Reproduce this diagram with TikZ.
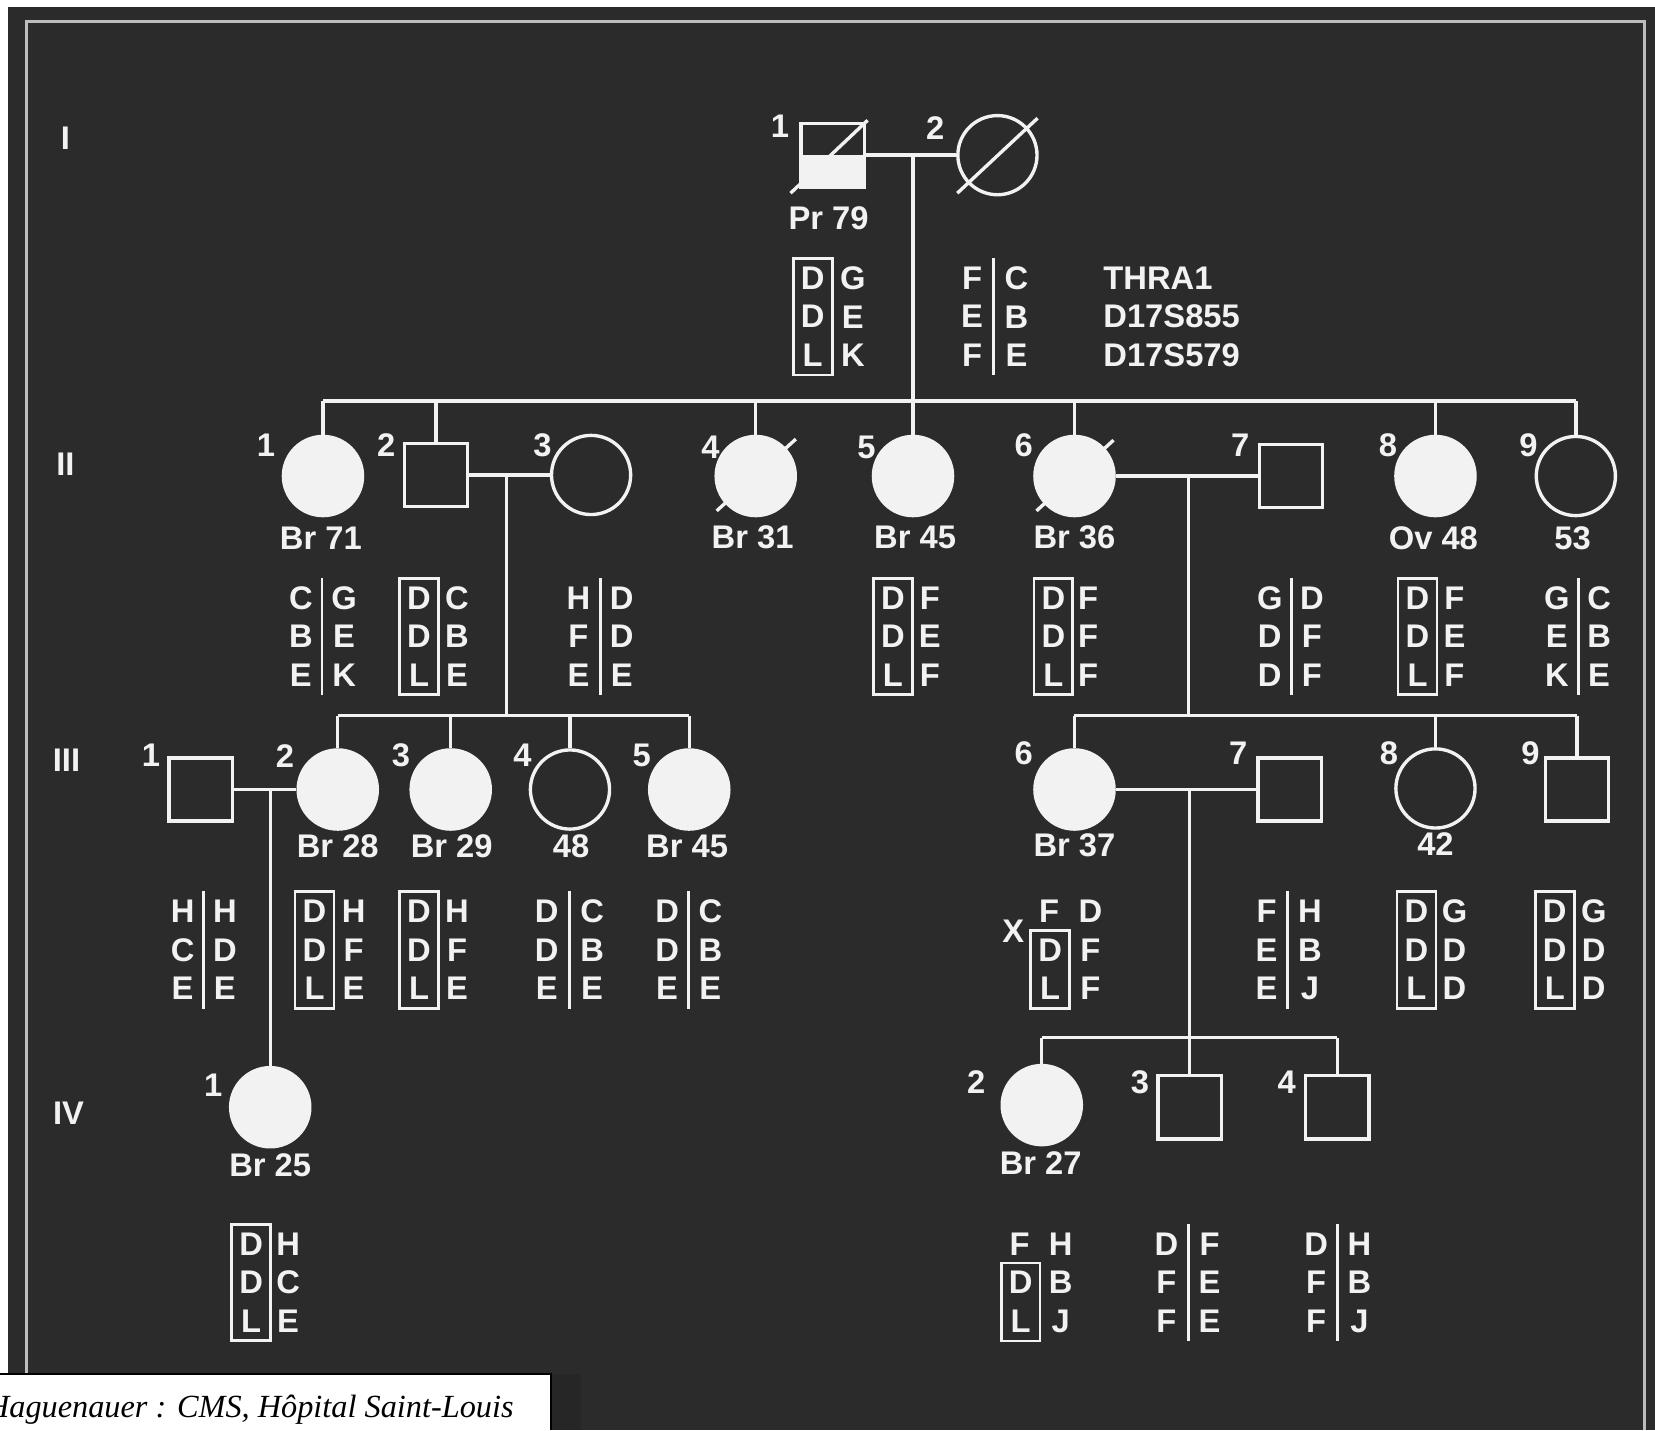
\documentclass[tikz,border=0pt]{standalone}
\usepackage{fontspec}
\newfontfamily\pedfont{Liberation Sans}
\newfontfamily\captfont{Liberation Serif}
\usetikzlibrary{calc}
\definecolor{bg}{HTML}{2B2B2B}
\definecolor{fg}{HTML}{F2F2F2}
\definecolor{framecol}{HTML}{BDBDBD}
\tikzset{
    male/.style={rectangle, draw=fg, line width=1.6pt, minimum size=30pt, inner sep=0pt},
    female/.style={circle, draw=fg, line width=1.6pt, minimum size=37.5pt, inner sep=0pt},
    affected/.style={fill=fg},
    link/.style={draw=fg, line width=1.6pt},
    txt/.style={text=fg, font=\pedfont\bfseries\fontsize{15.5}{18.25}\selectfont, inner sep=1pt},
    allele/.style={txt, align=center, inner xsep=3.6pt, inner ysep=4pt},
    boxed/.style={draw=fg, line width=1.3pt},
    bar/.style={draw=fg, line width=1.4pt}
}
\begin{document}
\begin{tikzpicture}[x=0.5pt, y=-0.5pt]
    \useasboundingbox (0,0) rectangle (1568,1355);
    % background and frame
    \fill[white] (0,0) rectangle (1568,1355);
    \fill[bg] (8,7) rectangle (1568,1355);
    \draw[framecol, line width=1.4pt] (25,1302) -- (25,20) -- (1558,20) -- (1558,1355);

    % generations
    \node (gI) [txt] at (62,131) {I};
    \node (gII) [txt] at (62,440) {II};
    \node (gIII) [txt] at (63,720) {III};
    \node (gIV) [txt] at (65,1055) {IV};

    % generation I
    \node (I_1) [male] at (789,147) {};
    \fill[fg] (I_1.west) rectangle (I_1.south east);
    \draw[link] ($(I_1.center)+(-40,36)$) -- ($(I_1.center)+(33,-33)$);
    \node (I_2) [female] at (945,147) {};
    \draw[link] ($(I_2.center)+(-38,36)$) -- ($(I_2.center)+(38,-35)$);
    \node (n_I_1) [txt] at (739,120) {1};
    \node (n_I_2) [txt] at (886,121) {2};
    \node (a_I_1) [txt] at (785,207) {Pr 79};

    % generation II
    \node (II_1) [female, affected] at (306,451) {};
    \node (II_2) [male] at (413,450) {};
    \node (II_3) [female] at (560,450) {};
    \node (II_4) [female, affected] at (716,451) {};
    \draw[link] ($(II_4.center)+(-37,33)$) -- ($(II_4.center)+(38,-35)$);
    \node (II_5) [female, affected] at (865,451) {};
    \node (II_6) [female, affected] at (1018,451) {};
    \draw[link] ($(II_6.center)+(-36,33)$) -- ($(II_6.center)+(37,-34)$);
    \node (II_7) [male] at (1223,451) {};
    \node (II_8) [female, affected] at (1360,451) {};
    \node (II_9) [female] at (1493,451) {};

    \node (n_II_1) [txt] at (252,422) {1};
    \node (n_II_2) [txt] at (366,422) {2};
    \node (n_II_3) [txt] at (514,422) {3};
    \node (n_II_4) [txt] at (673,424) {4};
    \node (n_II_5) [txt] at (821,424) {5};
    \node (n_II_6) [txt] at (970,422) {6};
    \node (n_II_7) [txt] at (1175,422) {7};
    \node (n_II_8) [txt] at (1315,422) {8};
    \node (n_II_9) [txt] at (1448,422) {9};
    \node (a_II_1) [txt] at (304,510) {Br 71};
    \node (a_II_4) [txt] at (713,509) {Br 31};
    \node (a_II_5) [txt] at (867,509) {Br 45};
    \node (a_II_6) [txt] at (1018,509) {Br 36};
    \node (a_II_8) [txt] at (1358,510) {Ov 48};
    \node (a_II_9) [txt] at (1490,510) {53};

    % generation III
    \node (III_1) [male] at (190,748) {};
    \node (III_2) [female, affected] at (320,748) {};
    \node (III_3) [female, affected] at (427,748) {};
    \node (III_4) [female] at (540,748) {};
    \node (III_5) [female, affected] at (653,748) {};
    \node (III_6) [female, affected] at (1018,748) {};
    \node (III_7) [male] at (1222,748) {};
    \node (III_8) [female] at (1360,747) {};
    \node (III_9) [male] at (1494,748) {};

    \node (n_III_1) [txt] at (143,716) {1};
    \node (n_III_2) [txt] at (270,716) {2};
    \node (n_III_3) [txt] at (380,716) {3};
    \node (n_III_4) [txt] at (495,716) {4};
    \node (n_III_5) [txt] at (608,716) {5};
    \node (n_III_6) [txt] at (970,714) {6};
    \node (n_III_7) [txt] at (1173,714) {7};
    \node (n_III_8) [txt] at (1316,714) {8};
    \node (n_III_9) [txt] at (1450,714) {9};
    \node (a_III_2) [txt] at (320,802) {Br 28};
    \node (a_III_3) [txt] at (428,802) {Br 29};
    \node (a_III_4) [txt] at (541,802) {48};
    \node (a_III_5) [txt] at (651,802) {Br 45};
    \node (a_III_6) [txt] at (1018,801) {Br 37};
    \node (a_III_8) [txt] at (1360,800) {42};

    % generation IV
    \node (IV_1) [female, affected] at (256,1049) {};
    \node (IV_2) [female, affected] at (987,1047) {};
    \node (IV_3) [male] at (1127,1049) {};
    \node (IV_4) [male] at (1267,1049) {};
    \node (n_IV_1) [txt] at (202,1028) {1};
    \node (n_IV_2) [txt] at (925,1025) {2};
    \node (n_IV_3) [txt] at (1080,1025) {3};
    \node (n_IV_4) [txt] at (1219,1025) {4};
    \node (a_IV_1) [txt] at (256,1104) {Br 25};
    \node (a_IV_2) [txt] at (986,1102) {Br 27};

    % lines of descent
    \coordinate (m_I) at (865,147);
    \coordinate (s_II) at (865,380);
    \draw[link] (I_1) -- (I_2);
    \draw[link] (m_I) -- (s_II);
    \draw[link] (II_1 |- s_II) -- (II_9 |- s_II);
    \foreach \c in {II_1,II_2,II_4,II_5,II_6,II_8,II_9}
        \draw[link] (\c |- s_II) -- (\c);

    \coordinate (m_II_23) at (480,450);
    \coordinate (s_III_a) at (480,678);
    \draw[link] (II_2) -- (II_3);
    \draw[link] (m_II_23) -- (s_III_a);
    \draw[link] (III_2 |- s_III_a) -- (III_5 |- s_III_a);
    \foreach \c in {III_2,III_3,III_4,III_5}
        \draw[link] (\c |- s_III_a) -- (\c);

    \coordinate (m_II_67) at (1126,451);
    \coordinate (s_III_b) at (1126,678);
    \draw[link] (II_6) -- (II_7);
    \draw[link] (m_II_67) -- (s_III_b);
    \draw[link] (III_6 |- s_III_b) -- (III_9 |- s_III_b);
    \foreach \c in {III_6,III_8,III_9}
        \draw[link] (\c |- s_III_b) -- (\c);

    \coordinate (m_III_12) at (256,748);
    \draw[link] (III_1) -- (III_2);
    \draw[link] (m_III_12) -- (IV_1);

    \coordinate (m_III_67) at (1127,748);
    \coordinate (s_IV) at (1127,983);
    \draw[link] (III_6) -- (III_7);
    \draw[link] (m_III_67) -- (s_IV);
    \draw[link] (IV_2 |- s_IV) -- (IV_4 |- s_IV);
    \foreach \c in {IV_2,IV_3,IV_4}
        \draw[link] (\c |- s_IV) -- (\c);

    % haplotypes
    \node (I_1a) [allele, boxed] at (770,300) {D\\D\\L};
    \node (I_1b) [allele] at (808,300) {G\\E\\K};
    \node (I_2a) [allele] at (921,300) {F\\E\\F};
    \node (I_2b) [allele] at (963,300) {C\\B\\E};
    \node (markers) [txt, align=left, anchor=west, inner sep=0pt] at (1045,300) {THRA1\\D17S855\\D17S579};

    \node (II_1a) [allele] at (285,603) {C\\B\\E};
    \node (II_1b) [allele] at (326,603) {G\\E\\K};
    \node (II_2a) [allele, boxed] at (397,603) {D\\D\\L};
    \node (II_2b) [allele] at (433,603) {C\\B\\E};
    \node (II_3a) [allele] at (548,603) {H\\F\\E};
    \node (II_3b) [allele] at (589,603) {D\\D\\E};
    \node (II_5a) [allele, boxed] at (846,603) {D\\D\\L};
    \node (II_5b) [allele] at (881,603) {F\\E\\F};
    \node (II_6a) [allele, boxed] at (998,603) {D\\D\\L};
    \node (II_6b) [allele] at (1031,603) {F\\F\\F};
    \node (II_7a) [allele] at (1203,603) {G\\D\\D};
    \node (II_7b) [allele] at (1243,603) {D\\F\\F};
    \node (II_8a) [allele, boxed] at (1343,603) {D\\D\\L};
    \node (II_8b) [allele] at (1378,603) {F\\E\\F};
    \node (II_9a) [allele] at (1475,603) {G\\E\\K};
    \node (II_9b) [allele] at (1515,603) {C\\B\\E};

    \node (III_1a) [allele] at (173,900) {H\\C\\E};
    \node (III_1b) [allele] at (213,900) {H\\D\\E};
    \node (III_2a) [allele, boxed] at (298,900) {D\\D\\L};
    \node (III_2b) [allele] at (335,900) {H\\F\\E};
    \node (III_3a) [allele, boxed] at (397,900) {D\\D\\L};
    \node (III_3b) [allele] at (433,900) {H\\F\\E};
    \node (III_4a) [allele] at (518,900) {D\\D\\E};
    \node (III_4b) [allele] at (561,900) {C\\B\\E};
    \node (III_5a) [allele] at (632,900) {D\\D\\E};
    \node (III_5b) [allele] at (673,900) {C\\B\\E};
    \node (III_6x) [txt] at (960,882) {X};
    \node (III_6t) [allele] at (994,863) {F};
    \node (III_6a) [allele, boxed] at (995,918.5) {D\\L};
    \node (III_6b) [allele] at (1033,900) {D\\F\\F};
    \node (III_7a) [allele] at (1200,900) {F\\E\\E};
    \node (III_7b) [allele] at (1241,900) {H\\B\\J};
    \node (III_8a) [allele, boxed] at (1342,900) {D\\D\\L};
    \node (III_8b) [allele] at (1378,900) {G\\D\\D};
    \node (III_9a) [allele, boxed] at (1473,900) {D\\D\\L};
    \node (III_9b) [allele] at (1510,900) {G\\D\\D};

    \node (IV_1a) [allele, boxed] at (238,1215) {D\\D\\L};
    \node (IV_1b) [allele] at (273,1215) {H\\C\\E};
    \node (IV_2t) [allele] at (966,1179) {F};
    \node (IV_2a) [allele, boxed] at (967,1233.5) {D\\L};
    \node (IV_2b) [allele] at (1005,1215) {H\\B\\J};
    \node (IV_3a) [allele] at (1105,1215) {D\\F\\F};
    \node (IV_3b) [allele] at (1146,1215) {F\\E\\E};
    \node (IV_4a) [allele] at (1247,1215) {D\\F\\F};
    \node (IV_4b) [allele] at (1288,1215) {H\\B\\J};

    \foreach \a/\b in {I_2a/I_2b, II_1a/II_1b, II_3a/II_3b, II_7a/II_7b, II_9a/II_9b,
        III_1a/III_1b, III_4a/III_4b, III_5a/III_5b, III_7a/III_7b, IV_3a/IV_3b, IV_4a/IV_4b}
        \draw[bar] ($(\a.north east)!.5!(\b.north west)$) -- ($(\a.south east)!.5!(\b.south west)$);

    % caption
    \fill[black!85] (522,1302) rectangle (550,1355);
    \fill[white] (0,1302) rectangle (522,1355);
    \draw[black, line width=0.8pt] (0,1302) -- (522,1302) -- (522,1355);
    \begin{scope}
        \clip (0,1302) rectangle (522,1355);
        \node (caption) [anchor=base east, inner sep=0pt, font=\captfont\itshape\fontsize{15.3}{18}\selectfont] at (487,1343) {Haguenauer : CMS, Hôpital Saint-Louis};
    \end{scope}
\end{tikzpicture}
\end{document}
